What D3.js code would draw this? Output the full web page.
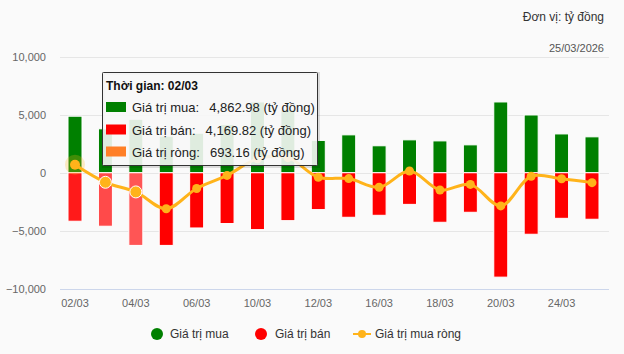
<!DOCTYPE html>
<html>
<head>
<meta charset="utf-8">
<script src="https://cdn.jsdelivr.net/npm/d3@7"></script>
<style>
  html, body { margin: 0; padding: 0; background: #fafafa; }
  svg { display: block; font-family: "Liberation Sans", Arial, sans-serif; }
</style>
</head>
<body>
<div id="chart"></div>
<script>
var dates = ['02/03','03/03','04/03','05/03','06/03','09/03','10/03','11/03','12/03','13/03','16/03','17/03','18/03','19/03','20/03','23/03','24/03','25/03'];
var buyValues = [4862.98, 3780, 4600, 3150, 3400, 4140, 6090, 5420, 2780, 3260, 2320, 2830, 2740, 2400, 6090, 4970, 3340, 3090];
var sellValues = [4169.82, 4600, 6250, 6250, 4750, 4370, 4890, 4120, 3170, 3830, 3660, 2720, 4260, 3400, 8980, 5290, 3920, 4000];
var netValues = [693.16, -820, -1650, -3100, -1350, -230, 1200, 1300, -390, -500, -1250, 150, -1480, -1000, -2850, -300, -520, -850];
var yTicks = [-10000, -5000, 0, 5000, 10000];

var width = 624, height = 354;
var left = 60, right = 609;

var svg = d3.select('#chart').append('svg')
	.attr('width', width)
	.attr('height', height);

svg.append('rect').attr('width', width).attr('height', height).attr('fill', '#fafafa');

var x = d3.scaleBand()
	.domain(dates)
	.range([59.8, 607.2])
	.paddingInner(0.54)
	.paddingOuter(0.27);

var y = d3.scaleLinear()
	.domain([-10000, 10000])
	.range([289, 56.5]);

// grid
svg.append('g')
	.selectAll('line')
	.data(yTicks)
	.enter()
	.append('line')
	.attr('x1', left).attr('x2', right)
	.attr('y1', function(d){ return Math.round(y(d)) + 0.5; })
	.attr('y2', function(d){ return Math.round(y(d)) + 0.5; })
	.attr('stroke', function(d){ return d === -10000 ? '#ccd6eb' : '#e6e6e6'; })
	.attr('stroke-width', 1);

// y axis
var yAxis = d3.axisLeft(y).tickValues(yTicks).tickSize(0).tickPadding(0).tickFormat(d3.format(','));
var gy = svg.append('g').attr('transform', 'translate(46,0)').call(yAxis);
gy.select('.domain').remove();
gy.selectAll('text').attr('fill', '#666').style('font-size', '11px').style('font-family', '"Liberation Sans", Arial, sans-serif');

// x axis
var xAxis = d3.axisBottom(x)
	.tickValues(dates.filter(function(d, i){ return i % 2 === 0; }))
	.tickSize(0).tickPadding(10);
var gx = svg.append('g').attr('transform', 'translate(0,289)').call(xAxis);
gx.select('.domain').remove();
gx.selectAll('text').attr('fill', '#666').style('font-size', '11px').style('font-family', '"Liberation Sans", Arial, sans-serif');

// buy bars
svg.append('g')
	.selectAll('rect')
	.data(buyValues)
	.enter()
	.append('rect')
	.attr('x', function(d, i){ return x(dates[i]); })
	.attr('width', x.bandwidth())
	.attr('y', function(d){ return y(d); })
	.attr('height', function(d){ return y(0) - y(d); })
	.attr('fill', '#008000')
	.attr('stroke', '#fff')
	.attr('stroke-width', 1);

// sell bars (first ones still fading from hover)
var sellFade = {0: '#ff1a1a', 1: '#ff4a4a', 2: '#ff5555'};
svg.append('g')
	.selectAll('rect')
	.data(sellValues)
	.enter()
	.append('rect')
	.attr('x', function(d, i){ return x(dates[i]); })
	.attr('width', x.bandwidth())
	.attr('y', y(0))
	.attr('height', function(d){ return y(-d) - y(0); })
	.attr('fill', function(d, i){ return sellFade[i] || '#ff0000'; })
	.attr('stroke', '#fff')
	.attr('stroke-width', 1);

// net line
var cx = function(i){ return x(dates[i]) + x.bandwidth() / 2; };
var line = d3.line()
	.x(function(d, i){ return cx(i); })
	.y(function(d){ return y(d); })
	.curve(d3.curveCatmullRom.alpha(0.5));

var lineColor = '#ffb31a';

svg.append('circle')
	.attr('cx', cx(0)).attr('cy', y(netValues[0]))
	.attr('r', 10).attr('fill', lineColor).attr('opacity', 0.25);

svg.append('path')
	.datum(netValues)
	.attr('d', line)
	.attr('fill', 'none')
	.attr('stroke', lineColor)
	.attr('stroke-width', 3);

svg.append('g')
	.selectAll('circle')
	.data(netValues)
	.enter()
	.append('circle')
	.attr('cx', function(d, i){ return cx(i); })
	.attr('cy', function(d){ return y(d); })
	.attr('r', function(d, i){ return (i === 1 || i === 2) ? 6 : (i === 0 ? 5 : 4.5); })
	.attr('fill', lineColor)
	.attr('stroke', function(d, i){ return (i === 1 || i === 2) ? '#fff' : 'none'; })
	.attr('stroke-width', 1);

// header
svg.append('text').attr('x', 604).attr('y', 21).attr('text-anchor', 'end')
	.attr('fill', '#333').style('font-size', '12px').text('Đơn vị: tỷ đồng');
svg.append('text').attr('x', 604).attr('y', 52).attr('text-anchor', 'end')
	.attr('fill', '#555').style('font-size', '11px').text('25/03/2026');

// legend
var lg = svg.append('g').style('font-size', '12px');
lg.append('circle').attr('cx', 157).attr('cy', 334).attr('r', 6).attr('fill', '#008000');
lg.append('text').attr('x', 170).attr('y', 338).attr('fill', '#333').text('Giá trị mua');
lg.append('circle').attr('cx', 261).attr('cy', 334).attr('r', 6).attr('fill', '#ff0000');
lg.append('text').attr('x', 275).attr('y', 338).attr('fill', '#333').text('Giá trị bán');
lg.append('line').attr('x1', 353).attr('x2', 371).attr('y1', 334).attr('y2', 334)
	.attr('stroke', lineColor).attr('stroke-width', 2);
lg.append('circle').attr('cx', 362).attr('cy', 334).attr('r', 4).attr('fill', lineColor);
lg.append('text').attr('x', 375).attr('y', 338).attr('fill', '#333').text('Giá trị mua ròng');

// tooltip
var tip = svg.append('g');
tip.append('rect').attr('x', 103.5).attr('y', 73.5).attr('width', 215).attr('height', 93)
	.attr('fill', 'none').attr('stroke', '#000').attr('stroke-opacity', 0.12).attr('stroke-width', 3);
tip.append('rect').attr('x', 102.5).attr('y', 72.5).attr('width', 215).attr('height', 93)
	.attr('rx', 1).attr('fill', '#f7f7f7').attr('fill-opacity', 0.9)
	.attr('stroke', '#333').attr('stroke-width', 1);
tip.append('text').attr('x', 106).attr('y', 90).attr('fill', '#111')
	.style('font-size', '12px').style('font-weight', 'bold').text('Thời gian: ' + dates[0]);

var fmt = d3.format(',.2f');
var rows = [
	['#008000', 'Giá trị mua:', buyValues[0], 112],
	['#ff0000', 'Giá trị bán:', sellValues[0], 134.5],
	['#ff7f27', 'Giá trị ròng:', netValues[0], 156.5]
];
rows.forEach(function(r){
	tip.append('rect').attr('x', 106).attr('y', r[3] - 10).attr('width', 20).attr('height', 10).attr('fill', r[0]);
	var t = tip.append('text').attr('x', 132).attr('y', r[3]).attr('fill', '#222').style('font-size', '13px');
	t.append('tspan').text(r[1]);
	t.append('tspan').attr('dx', 10).text(fmt(r[2]) + ' (tỷ đồng)');
});
</script>
</body>
</html>
